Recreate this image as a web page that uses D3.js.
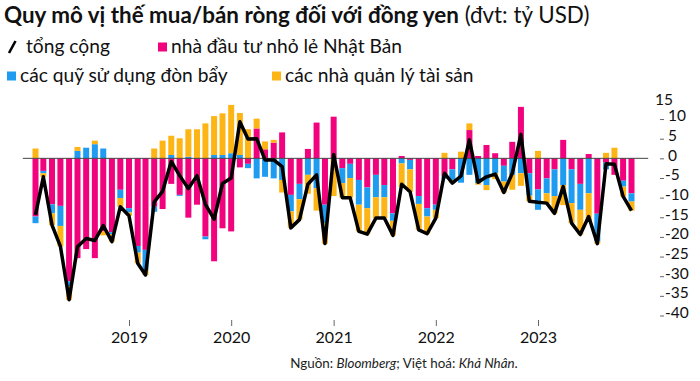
<!DOCTYPE html>
<html>
<head>
<meta charset="utf-8">
<script src="https://cdn.jsdelivr.net/npm/d3@7"></script>
<style>
  body { margin: 0; background: #fff; }
  svg { display: block; font-family: Lato, "Noto Sans", sans-serif; }
</style>
</head>
<body>
<svg id="chart" width="700" height="381"></svg>
<script>
// monthly, Feb 2018 .. Dec 2023 (ty USD)
var months = d3.timeMonth.range(new Date(2018, 1, 1), new Date(2024, 0, 1));

var retail = [
    -14.8, -3.2, -11.7, -12.1, -31.3, -25.4, -23.1, -25.4, -18.6, -18.8, -8.0, -12.7,
    -22.3, -23.3, -12.3, -12.9, -6.5, -9.3, -15.1, -11.8, -19.9, -26.2, -17.8, -18.6,
    -2.3, -1.4, 7.6, 2.3, 4.0, 6.6, -9.3, -6.5, 2.4, 9.1, -11.8, 10.6,
    -2.5, -1.4, -5.5, -7.4, -4.2, -6.8, -14.0, 0.6, -0.4, -9.6, -12.7, -11.8,
    -4.5, -2.8, 0, 7.2, 0.6, 3.4, 1.3, -1.9, 4.2, 13.1, -3.8, -7.9,
    -5.1, -2.8, 4.7, -2.8, -6.5, 1.1, -14.1, -1.1, -4.2, -5.7, -8.9
];
var leveraged = [
    -1.7, -0.6, -2.3, -5.1, -1.3, 1.9, 2.7, 3.6, 2.5, -0.5, -2.1, -1.1,
    -1.7, -5.1, -1.3, 0, 0.85, -0.25, 0.4, 0, -0.7, 0.85, 0.85, 1.3,
    0.85, -1.1, -5.1, -4.7, -5.1, -5.5, -4.2, -3.9, -4.2, -7.6, -4.7, -0.3,
    -3.8, -3.6, -6.3, -5.3, -5.7, -3.1, -1.9, -1.3, -2.4, -2.0, -2.1, -1.3,
    -0.7, -2.7, -6.2, -4.2, -6.3, -6.8, -3.8, -4.0, -4.2, -3.8, -5.7, -5.2,
    -3.8, -6.8, -6.8, -8.6, -6.6, -8.9, -7.0, -1.7, 0, -1.5, -2.1
];
var assetMgr = [
    2.5, -0.9, -3.0, -5.2, -3.4, 1.0, 0, 0.9, -1.0, -1.9, -2.2, -0.8,
    -2.7, -1.3, 2.5, 4.5, 4.9, 5.1, 7.0, 7.4, 8.9, 9.9, 10.6, 12.3,
    10.7, 7.4, 2.5, 2.0, 0.7, -3.2, -4.2, -5.2, -4.8, -5.7, -5.2, -9.3,
    -3.7, -5.0, -6.8, -6.6, -5.3, -5.3, -3.7, -5.9, -5.7, -6.6, -4.4, -2.1,
    1.4, -0.8, 1.7, 1.7, -0.4, -1.3, -1.5, -2.8, -3.8, -3.2, -1.4, 1.9,
    -2.5, -4.4, -5.1, -5.1, -6.3, -7.0, -0.6, 1.4, 2.7, -2.5, -2.3
];
var total = [
    -14.4, -4.7, -17.0, -22.4, -36.0, -22.5, -20.4, -20.9, -17.1, -21.2, -12.3, -14.6,
    -26.7, -29.7, -11.1, -8.4, -0.8, -4.4, -7.7, -4.4, -11.7, -15.5, -6.4, -5.0,
    9.3, 4.9, 5.0, -0.4, -0.4, -2.1, -17.7, -15.6, -6.6, -4.2, -21.7, 1.0,
    -10.0, -10.0, -18.6, -19.3, -15.2, -15.2, -19.6, -6.6, -8.5, -18.2, -19.2, -15.2,
    -3.8, -6.3, -4.5, 4.7, -6.1, -4.7, -4.0, -8.7, -3.8, 6.1, -10.9, -11.2,
    -11.4, -14.0, -7.2, -16.5, -19.4, -14.8, -21.7, -1.4, -1.5, -9.7, -13.3
];

var yTicks = [-40, -35, -30, -25, -20, -15, -10, -5, 0, 5, 10, 15];
var yearTicks = [2019, 2020, 2021, 2022, 2023];

var keys = ["retail", "leveraged", "assetMgr"];
var colors = {"retail": "#f2037e", "leveraged": "#1f9bf0", "assetMgr": "#fdb415"};

var svg = d3.select("#chart");

var x = d3.scaleTime().
    domain([new Date(2019, 0, 1), new Date(2023, 0, 1)]).
    range([129, 538]);
var y = d3.scaleLinear().domain([-40, 15]).range([315.5, 99.4]);
var barWidth = 6;

var rows = months.map(function(m, i) {
    return {date: m, retail: retail[i], leveraged: leveraged[i], assetMgr: assetMgr[i]};
});
var series = d3.stack().keys(keys).offset(d3.stackOffsetDiverging)(rows);

// title
var title = svg.append("text").attr("x", 4).attr("y", 23).attr("font-size", 22.4).attr("fill", "#111");
title.append("tspan").attr("font-weight", "bold").text("Quy mô vị thế mua/bán ròng đối với đồng yen");
title.append("tspan").attr("font-weight", "normal").text(" (đvt: tỷ USD)");

// legend
var lg = svg.append("g").attr("font-size", 19.2).attr("fill", "#111");
lg.append("line").attr("x1", 9).attr("y1", 53).attr("x2", 15.5).attr("y2", 41).
    attr("stroke", "#000").attr("stroke-width", 2.6);
lg.append("text").attr("x", 26).attr("y", 53).text("tổng cộng");
var items = [
    {key: "retail", label: "nhà đầu tư nhỏ lẻ Nhật Bản", x: 158, y: 53},
    {key: "leveraged", label: "các quỹ sử dụng đòn bẩy", x: 7, y: 82},
    {key: "assetMgr", label: "các nhà quản lý tài sản", x: 272, y: 82}
];
items.forEach(function(it) {
    lg.append("rect").attr("x", it.x).attr("y", it.y - 10.5).attr("width", 9).attr("height", 9).
        attr("fill", colors[it.key]);
    lg.append("text").attr("x", it.x + 13).attr("y", it.y).text(it.label);
});

// bars
svg.append("g").
    selectAll("g").
    data(series).
    enter().append("g").
    attr("fill", function(s) { return colors[s.key]; }).
    selectAll("rect").
    data(function(s) { return s; }).
    enter().append("rect").
    attr("x", function(d) { return x(d.data.date) - barWidth / 2; }).
    attr("y", function(d) { return y(Math.max(d[0], d[1])); }).
    attr("width", barWidth).
    attr("height", function(d) { return Math.abs(y(d[0]) - y(d[1])); });

// zero line
svg.append("line").
    attr("x1", x(new Date(2018, 0, 1)) - 4).attr("x2", x(new Date(2024, 0, 1)) + 8).
    attr("y1", y(0)).attr("y2", y(0)).
    attr("stroke", "#444").attr("stroke-width", 1);

// total line
var line = d3.line().
    x(function(d, i) { return x(months[i]); }).
    y(function(d) { return y(d); });
svg.append("path").datum(total).
    attr("d", line).
    attr("fill", "none").
    attr("stroke", "#000").
    attr("stroke-width", 3.5).
    attr("stroke-linejoin", "round");

// y axis on the right
var yAxis = d3.axisRight(y).tickValues(yTicks).tickSize(4).tickPadding(1).
    tickFormat(function(d) { return d; });
var ya = svg.append("g").attr("transform", "translate(660,0)").call(yAxis);
ya.select(".domain").remove();
ya.selectAll(".tick line").attr("stroke", "#666");
ya.selectAll(".tick text").
    attr("font-size", 15.5).attr("font-family", "Lato, sans-serif").attr("fill", "#111").
    attr("dy", "0.12em").
    attr("x", function(d) { return d < 0 ? 5 : 8; });
ya.selectAll(".tick").filter(function(d) { return d === 15; }).
    call(function(t) {
        t.select("line").remove();
        t.select("text").attr("x", -5).attr("dy", "0.32em");
    });

// x axis
var xAxis = d3.axisBottom(x).
    tickValues(yearTicks.map(function(yr) { return new Date(yr, 0, 1); })).
    tickSize(6).tickPadding(6).
    tickFormat(d3.timeFormat("%Y"));
var xa = svg.append("g").attr("transform", "translate(0,320)").call(xAxis);
xa.select(".domain").remove();
xa.selectAll(".tick line").attr("stroke", "#666");
xa.selectAll(".tick text").attr("font-size", 16).attr("font-family", "Lato, sans-serif").attr("fill", "#111");

// source
var src = svg.append("text").attr("x", 404).attr("y", 368).attr("text-anchor", "middle").
    attr("font-size", 13.4).attr("fill", "#222");
src.append("tspan").text("Nguồn: ");
src.append("tspan").attr("font-style", "italic").text("Bloomberg");
src.append("tspan").text("; Việt hoá: ");
src.append("tspan").attr("font-style", "italic").text("Khả Nhân");
src.append("tspan").text(".");
</script>
</body>
</html>
